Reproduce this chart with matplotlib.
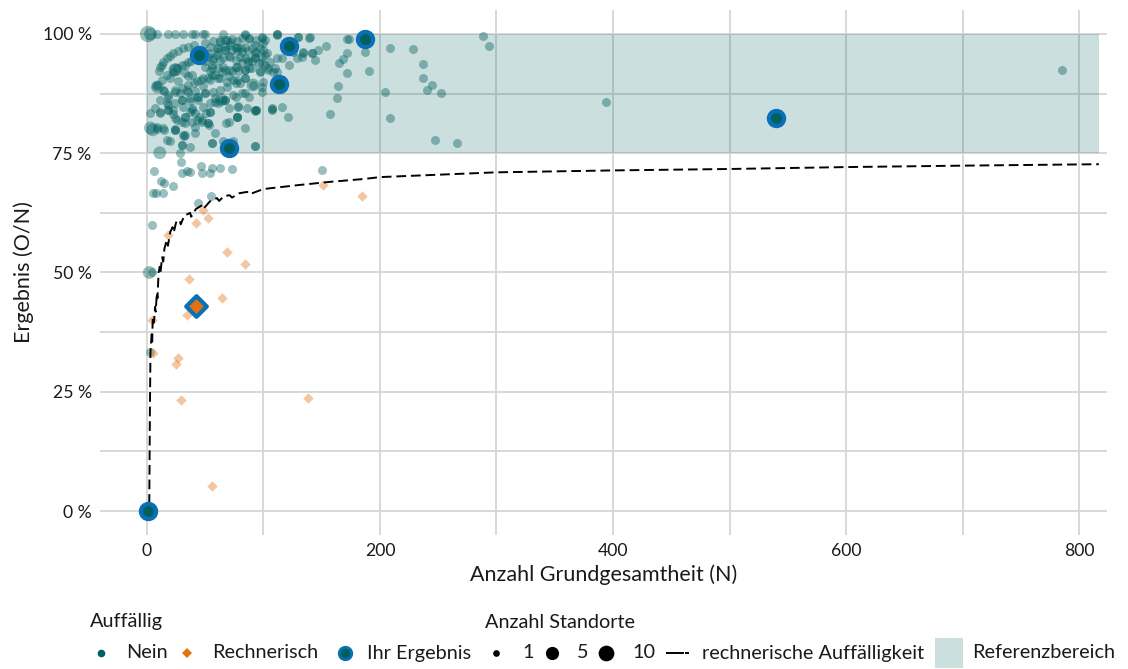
import matplotlib
matplotlib.use("Agg")
import matplotlib.pyplot as plt
import matplotlib.ticker as ticker
from matplotlib.patches import Rectangle

plt.rcParams['font.family'] = ['Lato', 'DejaVu Sans']

# --- data ------------------------------------------------------------------
# Auffaellig = Nein, one Standort each (N, result in %)
nein_n = [9, 18, 24, 31, 39, 41, 48, 50, 65, 84, 112,
          11, 14, 17, 20, 22, 27, 31, 35, 40, 50, 57, 63, 69, 73, 82, 88, 99,
          9, 13, 17, 22, 26, 30, 35, 41, 47, 54, 61, 67, 76, 84, 93, 100,
          14, 18, 24, 30, 35, 40, 46, 52, 58, 64, 70, 76, 82, 87, 93, 99, 104,
          18, 24, 30, 37, 44, 50, 57, 63, 69, 76, 84, 91, 99, 58, 67, 76, 84,
          7, 39, 48, 78, 93,
          3, 11, 18, 22, 26, 30, 33, 37, 43, 47, 52,
          9, 17, 30, 32, 24, 28, 37, 56, 65, 74, 93, 94, 107, 77, 70, 54,
          63, 67, 71, 77, 84, 88, 94, 99, 101, 112, 130, 140,
          54, 60, 67, 71, 77, 82, 90, 94, 100, 103, 125, 134, 142,
          52, 57, 63, 71, 80, 87, 93, 99, 106, 112,
          50, 56, 65, 77, 84, 88, 97, 104, 108,
          33, 39, 48, 54, 61, 69, 74, 80, 100, 116,
          28, 35, 43, 50, 58, 67, 74, 82, 88, 99, 107,
          17, 22, 31, 39, 45, 54, 61, 70, 77, 86, 94, 121,
          9, 15, 24, 33, 39, 47, 52, 31, 41, 58,
          112, 130, 139, 172, 173, 154, 147, 142, 134, 133, 129, 144, 116, 122,
          168, 165, 172, 187, 191, 172, 164, 163, 116, 107, 157, 110, 112,
          288, 294, 209, 228, 237, 237, 245, 240, 252, 204, 209, 247, 266, 394, 785,
          6, 29, 30, 34, 37, 46, 47, 54, 56, 63, 73, 150, 12, 15, 22, 5, 8, 14,
          44, 55, 4, 4, 3,
          61, 67, 73, 77, 81, 87, 93, 97, 101, 60, 65, 70, 76, 84, 90, 96, 101,
          56, 61, 67, 73, 78, 84, 90, 97, 56, 63, 70, 77, 84, 54, 50, 57,
          13, 10, 33, 38, 20, 27, 35, 43, 48, 8, 15, 24, 34, 41,
          11, 18, 30, 37, 44, 54, 64, 11, 18, 24, 33, 41, 51, 78, 77, 68, 93,
          14, 24, 33, 41, 53, 56, 30, 20, 93, 84]
nein_pct = [100, 100, 100, 100, 100, 100, 100, 100, 100, 100, 100,
            93.1, 94.1, 95.0, 95.4, 96.0, 96.4, 97.1, 97.3, 97.7, 98.1, 98.5, 98.7, 98.7, 99.0, 99.2, 99.0, 99.2,
            89.3, 90.4, 91.4, 92.0, 92.9, 93.5, 94.1, 95.0, 95.4, 96.0, 96.2, 96.6, 97.1, 97.3, 97.7, 98.1,
            88.3, 87.2, 87.8, 88.7, 89.3, 89.7, 90.4, 90.8, 91.4, 92.0, 92.5, 93.1, 93.9, 94.1, 95.0, 95.2, 92.9,
            85.1, 85.5, 86.2, 86.6, 86.8, 87.6, 87.8, 88.3, 88.9, 89.7, 90.8, 89.3, 88.9, 85.7, 86.2, 86.8, 87.6,
            84.5, 84.5, 84.7, 84.7, 84.1,
            83.4, 83.6, 84.1, 83.2, 82.0, 81.6, 82.6, 83.6, 82.0, 81.6, 81.3,
            80.1, 77.8, 76.7, 78.6, 80.1, 75.1, 76.3, 77.1, 77.6, 77.6, 76.5, 84.1, 84.1, 82.6, 81.6, 83.6,
            98.3, 98.7, 98.3, 98.5, 99.8, 99.2, 98.7, 99.4, 98.7, 99.8, 99.4, 99.4,
            97.3, 97.1, 96.6, 97.7, 97.3, 96.2, 97.1, 96.2, 96.6, 96.0, 96.2, 96.0, 96.0,
            95.2, 95.0, 94.5, 95.2, 95.2, 94.5, 95.2, 93.9, 94.1, 95.0,
            93.1, 92.9, 93.1, 93.1, 92.5, 92.9, 92.0, 92.5, 92.0,
            91.8, 91.4, 90.8, 90.4, 90.8, 89.9, 90.4, 89.7, 89.9, 90.4,
            87.6, 87.8, 86.8, 87.6, 86.6, 86.2, 87.2, 87.6, 86.8, 87.8, 84.3,
            85.5, 84.1, 84.7, 84.1, 82.6, 83.6, 85.5, 84.5, 82.6, 84.5, 84.1, 82.6,
            80.5, 79.9, 79.9, 81.3, 81.6, 82.0, 81.3, 78.8, 79.2, 79.2,
            100, 99.4, 99.2, 99.0, 99.0, 97.5, 96.6, 96.0, 96.2, 95.2, 95.0, 94.5, 95.0, 93.5,
            94.8, 93.9, 96.0, 96.2, 92.2, 91.8, 89.1, 86.6, 84.7, 84.5, 83.2, 92.9, 92.0,
            99.6, 97.5, 97.1, 96.9, 93.7, 90.8, 89.3, 88.3, 87.6, 87.8, 82.4, 77.8, 77.1, 85.7, 92.5,
            71.3, 73.2, 70.9, 71.3, 71.1, 72.3, 70.9, 70.9, 71.9, 71.9, 71.7, 71.5, 69.2, 68.8, 68.1, 66.7, 66.7, 66.7,
            64.6, 66.0, 60.0, 50.0, 33.3,
            97.1, 97.4, 96.7, 96.4, 97.1, 96.4, 96.0, 97.1, 95.7, 95.7, 95.0, 95.3, 94.6, 95.0, 94.3, 93.9, 93.6,
            93.6, 92.9, 92.5, 92.2, 92.2, 92.5, 92.9, 92.2, 91.5, 90.8, 91.1, 90.4, 90.8, 92.2, 94.3, 94.6,
            93.6, 92.2, 93.6, 94.3, 90.8, 90.1, 91.1, 90.1, 89.0, 89.0, 88.0, 88.3, 88.3, 88.0,
            86.2, 86.6, 86.2, 85.9, 86.2, 85.5, 86.2, 83.4, 84.1, 82.4, 82.7, 83.4, 83.4, 84.8, 82.7, 81.3, 83.8,
            80.3, 79.9, 78.9, 80.6, 81.0, 77.1, 76.8, 77.5, 76.5, 80.3]

# Nein with more Standorte
nein_multi_n = [1, 3, 5, 11, 2, 24, 25, 9, 91, 64, 3]
nein_multi_pct = [100, 100, 79.9, 75.1, 50.0, 92.5, 92.5, 88.9, 89.3, 86.2, 80.3]
nein_multi_sites = [10, 5, 5, 5, 5, 5, 5, 5, 5, 5, 5]

# Auffaellig = Rechnerisch
rech_n = [18, 42, 52, 69, 84, 36, 64, 34, 4, 5, 27, 25, 29, 138, 56, 151, 185, 48]
rech_pct = [57.9, 60.4, 61.4, 54.3, 51.8, 48.6, 44.7, 41.1, 40.0, 33.1, 32.1, 30.8,
            23.3, 23.7, 5.2, 68.3, 66.0, 63.1]

# Ihr Ergebnis
own_nein_n = [45, 122, 187, 113, 70, 540, 1]
own_nein_pct = [95.6, 97.5, 99.0, 89.5, 76.1, 82.4, 0.0]
own_rech_n = [42]
own_rech_pct = [43.0]

# rechnerische Auffaelligkeit (threshold line, jagged as in the original)
thr_n = [2, 2.5, 3, 4, 4.5, 5, 6, 7, 7.5, 8.5, 9, 10, 11, 11.5, 13, 14, 15, 17,
         18, 20, 22, 23, 25, 28, 29, 32, 37, 38, 42, 48, 49, 54, 60, 62, 66, 71,
         73, 79, 86, 88, 100, 129, 157, 186, 200, 300, 400, 500, 600, 700, 817]
thr_pct = [1.5, 20, 33.3, 37, 35.5, 40.7, 39.5, 42.8, 41.8, 45.7, 44.6, 50.0,
           51.2, 49.8, 53.2, 52.3, 55.0, 56.8, 55.6, 58.5, 59.5, 58.4, 60.5,
           61.0, 60.1, 61.9, 62.5, 61.7, 63.3, 64.2, 63.5, 64.9, 65.6, 65.0,
           66.0, 66.2, 65.7, 66.6, 66.9, 66.4, 67.5, 68.3, 69.0, 69.6, 70.0,
           71.0, 71.4, 71.7, 72.1, 72.4, 72.7]

ref_low, ref_high = 75, 100
ref_n_max = 817

# --- styles -----------------------------------------------------------------
TEAL = '#005f5f'
ORANGE = '#e2720f'
BLUE = '#0a70b5'
GRID = '#d6d6d6'
TXT = '#1a1a1a'

def site_size(n_sites):
    return 42 + (n_sites - 1) * 10.8

fig = plt.figure(figsize=(11.28, 6.69), dpi=100)
ax = fig.add_axes([100 / 1128, 134 / 669, 1007 / 1128, 525 / 669])

ax.set_xlim(-40.3, 824)
ax.set_ylim(-5.03, 105.03)

ax.set_xticks([0, 200, 400, 600, 800])
ax.set_xticks([100, 300, 500, 700], minor=True)
ax.set_yticks([0, 25, 50, 75, 100])
ax.set_yticks([12.5, 37.5, 62.5, 87.5], minor=True)
ax.yaxis.set_major_formatter(ticker.FuncFormatter(lambda v, pos: f"{int(v)} %"))
ax.grid(True, which='both', color=GRID, linewidth=1.3)
ax.set_axisbelow(True)
ax.tick_params(which='both', length=0, labelsize=12.7, colors=TXT, pad=6)
for s in ax.spines.values():
    s.set_visible(False)

ax.set_xlabel("Anzahl Grundgesamtheit (N)", fontsize=15.5, color=TXT, labelpad=4)
ax.set_ylabel("Ergebnis (O/N)", fontsize=15.5, color=TXT, labelpad=6)

# reference area
ax.add_patch(Rectangle((0, ref_low), ref_n_max, ref_high - ref_low,
                       facecolor=TEAL, alpha=0.2, edgecolor='none', zorder=1.5))

# threshold line
ax.plot(thr_n, thr_pct, color='black', linewidth=1.4, dashes=(5, 2.5), zorder=3)

# points
ax.scatter(nein_n, nein_pct, s=site_size(1), color=TEAL, alpha=0.4,
           linewidths=0, zorder=2)
ax.scatter(nein_multi_n, nein_multi_pct,
           s=[site_size(k) for k in nein_multi_sites],
           color=TEAL, alpha=0.4, linewidths=0, zorder=2)
ax.scatter(rech_n, rech_pct, s=28, marker='D', color=ORANGE, alpha=0.4,
           linewidths=0, zorder=2)
ax.scatter(own_nein_n, own_nein_pct, s=120, color=TEAL, edgecolors=BLUE,
           linewidths=3, zorder=4)
ax.scatter(own_rech_n, own_rech_pct, s=110, marker='D', color=ORANGE,
           edgecolors=BLUE, linewidths=3, zorder=4)

# --- legend (drawn in pixel space under the plot) --------------------------
lax = fig.add_axes([0, 0, 1, 1])
lax.set_xlim(0, 1128)
lax.set_ylim(669, 0)
lax.axis('off')

ly = 653
tkw = dict(fontsize=14.3, color=TXT, va='center', ha='left')
lax.text(90, 622, "Auffällig", **tkw)
lax.text(485, 622, "Anzahl Standorte", **tkw)

lax.plot(101, ly, 'o', color=TEAL, markersize=5.5, markeredgewidth=0)
lax.text(126, ly, "Nein", **tkw)
lax.plot(187, ly, 'D', color=ORANGE, markersize=5, markeredgewidth=0)
lax.text(212, ly, "Rechnerisch", **tkw)
lax.plot(345, ly, 'o', color=TEAL, markersize=9, markeredgecolor=BLUE,
         markeredgewidth=2)
lax.text(367, ly, "Ihr Ergebnis", **tkw)

for xp, dia, label, tx in [(496, 4.8, "1", 522), (552, 9.5, "5", 577),
                           (606, 11.3, "10", 632)]:
    lax.plot(xp, ly, 'o', color='black', markersize=dia, markeredgewidth=0)
    lax.text(tx, ly, label, **tkw)

lax.plot([667, 683], [ly, ly], color='black', linewidth=1.4)
lax.plot([685.5, 687.5], [ly, ly], color='black', linewidth=1.4)
lax.text(702, ly, "rechnerische Auffälligkeit", **tkw)
lax.add_patch(Rectangle((935, 638), 28, 30, facecolor=TEAL, alpha=0.2,
                        edgecolor='none'))
lax.text(972, ly, "Referenzbereich", **tkw)

fig.savefig("out.png", dpi=100)
